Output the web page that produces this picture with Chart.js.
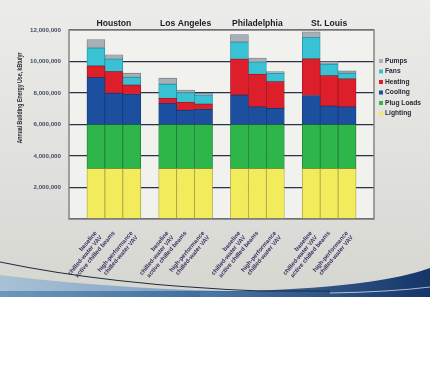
<!DOCTYPE html>
<html>
<head>
<meta charset="utf-8">
<script src="https://cdn.jsdelivr.net/npm/chart.js@4"></script>
<style>
  html, body { margin: 0; padding: 0; background: #fff; }
  #wrap { width: 430px; height: 390px; }
</style>
</head>
<body>
<div id="wrap"><canvas id="energyChart" width="430" height="390"></canvas></div>
<script>
// cities and the three HVAC systems compared in each
const cities = ['Houston', 'Los Angeles', 'Philadelphia', 'St. Louis'];
const systems = [['baseline', 'chilled-water VAV'], 'active chilled beams', ['high-performance', 'chilled-water VAV']];

// end uses, kBtu/yr, one value per bar (city x system)
const lighting  = [3200000, 3200000, 3200000, 3200000, 3200000, 3200000, 3200000, 3200000, 3200000, 3200000, 3200000, 3200000];
const plugLoads = [2800000, 2800000, 2800000, 2800000, 2800000, 2800000, 2800000, 2800000, 2800000, 2800000, 2800000, 2800000];
const cooling   = [2980000, 1980000, 1920000, 1340000, 910000, 960000, 1870000, 1120000, 1020000, 1840000, 1170000, 1120000];
const heating   = [740000, 1380000, 590000, 320000, 500000, 340000, 2280000, 2070000, 1700000, 2330000, 1930000, 1780000];
const fans      = [1140000, 790000, 490000, 900000, 610000, 570000, 1090000, 770000, 540000, 1360000, 730000, 360000];
const pumps     = [530000, 280000, 260000, 380000, 170000, 110000, 470000, 260000, 100000, 350000, 170000, 140000];

const yTicks = [0, 2000000, 4000000, 6000000, 8000000, 10000000, 12000000];

const FONT = "'Liberation Sans', Arial, sans-serif";

// an empty slot before, between and after the city groups
const labels = [''];
cities.forEach(() => { systems.forEach(s => labels.push(s)); labels.push(''); });

function spread(values) {
    const out = [null];
    cities.forEach((c, g) => {
        for (let i = 0; i < systems.length; i++) out.push(values[g * systems.length + i]);
        out.push(null);
    });
    return out;
}

function series(label, values, fill, edge) {
    return {
        label: label,
        data: spread(values),
        backgroundColor: fill,
        borderColor: edge,
        borderWidth: 0.8,
        borderSkipped: false,
        categoryPercentage: 1,
        barPercentage: 1
    };
}

const slideDecor = {
    id: 'slideDecor',
    beforeDraw(chart) {
        const ctx = chart.ctx;
        const W = chart.width;
        ctx.save();
        ctx.fillStyle = '#ffffff';
        ctx.fillRect(0, 0, W, chart.height);

        // slide background
        const bg = ctx.createLinearGradient(0, 0, 0, 297);
        bg.addColorStop(0, '#ececea');
        bg.addColorStop(1, '#d6d6d1');
        ctx.fillStyle = bg;
        ctx.fillRect(0, 0, W, 297);

        // light blue wedge bottom-left
        const lb = ctx.createLinearGradient(0, 0, 260, 0);
        lb.addColorStop(0, '#a9c1d5');
        lb.addColorStop(1, '#6f97bb');
        ctx.fillStyle = lb;
        ctx.beginPath();
        ctx.moveTo(0, 275);
        ctx.quadraticCurveTo(120, 290, 270, 292);
        ctx.lineTo(270, 297);
        ctx.lineTo(0, 297);
        ctx.closePath();
        ctx.fill();

        // bottom band
        const band = ctx.createLinearGradient(0, 0, W, 0);
        band.addColorStop(0, '#6d98bd');
        band.addColorStop(0.5, '#3c6a9c');
        band.addColorStop(1, '#1b3b70');
        ctx.fillStyle = band;
        ctx.fillRect(0, 291, W, 6);

        // dark blue rise on the right
        const db = ctx.createLinearGradient(200, 0, W, 0);
        db.addColorStop(0, '#4a79a9');
        db.addColorStop(1, '#163568');
        ctx.fillStyle = db;
        ctx.beginPath();
        ctx.moveTo(200, 292);
        ctx.quadraticCurveTo(370, 290, W, 268);
        ctx.lineTo(W, 297);
        ctx.lineTo(200, 297);
        ctx.closePath();
        ctx.fill();

        // swoosh lines
        ctx.strokeStyle = '#1f2b40';
        ctx.lineWidth = 1.2;
        ctx.beginPath();
        ctx.moveTo(0, 262);
        ctx.quadraticCurveTo(110, 285, 260, 291);
        ctx.lineTo(330, 291);
        ctx.stroke();
        ctx.strokeStyle = 'rgba(235,240,248,0.7)';
        ctx.lineWidth = 1;
        ctx.beginPath();
        ctx.moveTo(330, 293);
        ctx.quadraticCurveTo(390, 292, W, 287);
        ctx.stroke();

        // plot panel
        const a = chart.chartArea;
        ctx.fillStyle = '#f1f1ed';
        ctx.fillRect(a.left, a.top, a.right - a.left, a.bottom - a.top);
        ctx.restore();
    },
    afterDraw(chart) {
        const ctx = chart.ctx;
        const a = chart.chartArea;
        const x = chart.scales.x;
        ctx.save();

        // panel frame
        ctx.strokeStyle = '#858583';
        ctx.lineWidth = 1.5;
        ctx.strokeRect(a.left, a.top, a.right - a.left, a.bottom - a.top);

        // city names over each group
        ctx.fillStyle = '#1c1c26';
        ctx.font = 'bold 8.6px ' + FONT;
        ctx.textAlign = 'center';
        ctx.textBaseline = 'middle';
        cities.forEach((c, g) => {
            const mid = 1 + g * (systems.length + 1) + 1;
            ctx.fillText(c, x.getPixelForValue(mid), 24);
        });

        // y axis title
        ctx.save();
        ctx.translate(20, 98);
        ctx.rotate(-Math.PI / 2);
        ctx.font = 'bold 7px ' + FONT;
        ctx.fillStyle = '#2a2a36';
        ctx.fillText('Annual Building Energy Use, kBtu/yr', 0, 0, 91);
        ctx.restore();

        // legend, top item = top of stack
        ctx.font = 'bold 6.7px ' + FONT;
        ctx.textAlign = 'left';
        const ds = chart.data.datasets.slice().reverse();
        ds.forEach((d, i) => {
            const y = 61 + i * 10.5;
            ctx.fillStyle = d.backgroundColor;
            ctx.fillRect(379, y - 2, 4, 4);
            ctx.fillStyle = '#2a2a38';
            ctx.fillText(d.label, 385, y);
        });
        ctx.restore();
    }
};

new Chart(document.getElementById('energyChart'), {
    type: 'bar',
    data: {
        labels: labels,
        datasets: [
            series('Lighting', lighting, '#f2ec5c', '#a9a243'),
            series('Plug Loads', plugLoads, '#2fb64b', '#1f7a36'),
            series('Cooling', cooling, '#1c4f9f', '#143a78'),
            series('Heating', heating, '#dd1f2c', '#a3161f'),
            series('Fans', fans, '#38c2d3', '#2590a0'),
            series('Pumps', pumps, '#a8afb7', '#77808a')
        ]
    },
    options: {
        responsive: false,
        animation: false,
        layout: { padding: { left: 17, top: 30, right: 56, bottom: 111 } },
        plugins: {
            legend: { display: false },
            tooltip: { enabled: false }
        },
        scales: {
            x: {
                stacked: true,
                grid: { display: false },
                border: { display: false },
                ticks: {
                    autoSkip: false,
                    minRotation: 50,
                    maxRotation: 50,
                    padding: 3,
                    color: '#3d2c60',
                    font: { family: FONT, size: 6, weight: 'bold', lineHeight: 1.1 }
                },
                afterFit(scale) { scale.height = 60; }
            },
            y: {
                stacked: true,
                min: yTicks[0],
                max: yTicks[yTicks.length - 1],
                afterBuildTicks(scale) { scale.ticks = yTicks.map(v => ({ value: v })); },
                grid: { color: '#28334b', lineWidth: 1.3, drawTicks: false },
                border: { display: false },
                ticks: {
                    padding: 8,
                    color: '#414b62',
                    font: { family: FONT, size: 6.2, weight: 'bold' },
                    callback: v => v === 0 ? '' : v.toLocaleString('en-US')
                },
                afterFit(scale) { scale.width = 52; }
            }
        }
    },
    plugins: [slideDecor]
});
</script>
</body>
</html>
